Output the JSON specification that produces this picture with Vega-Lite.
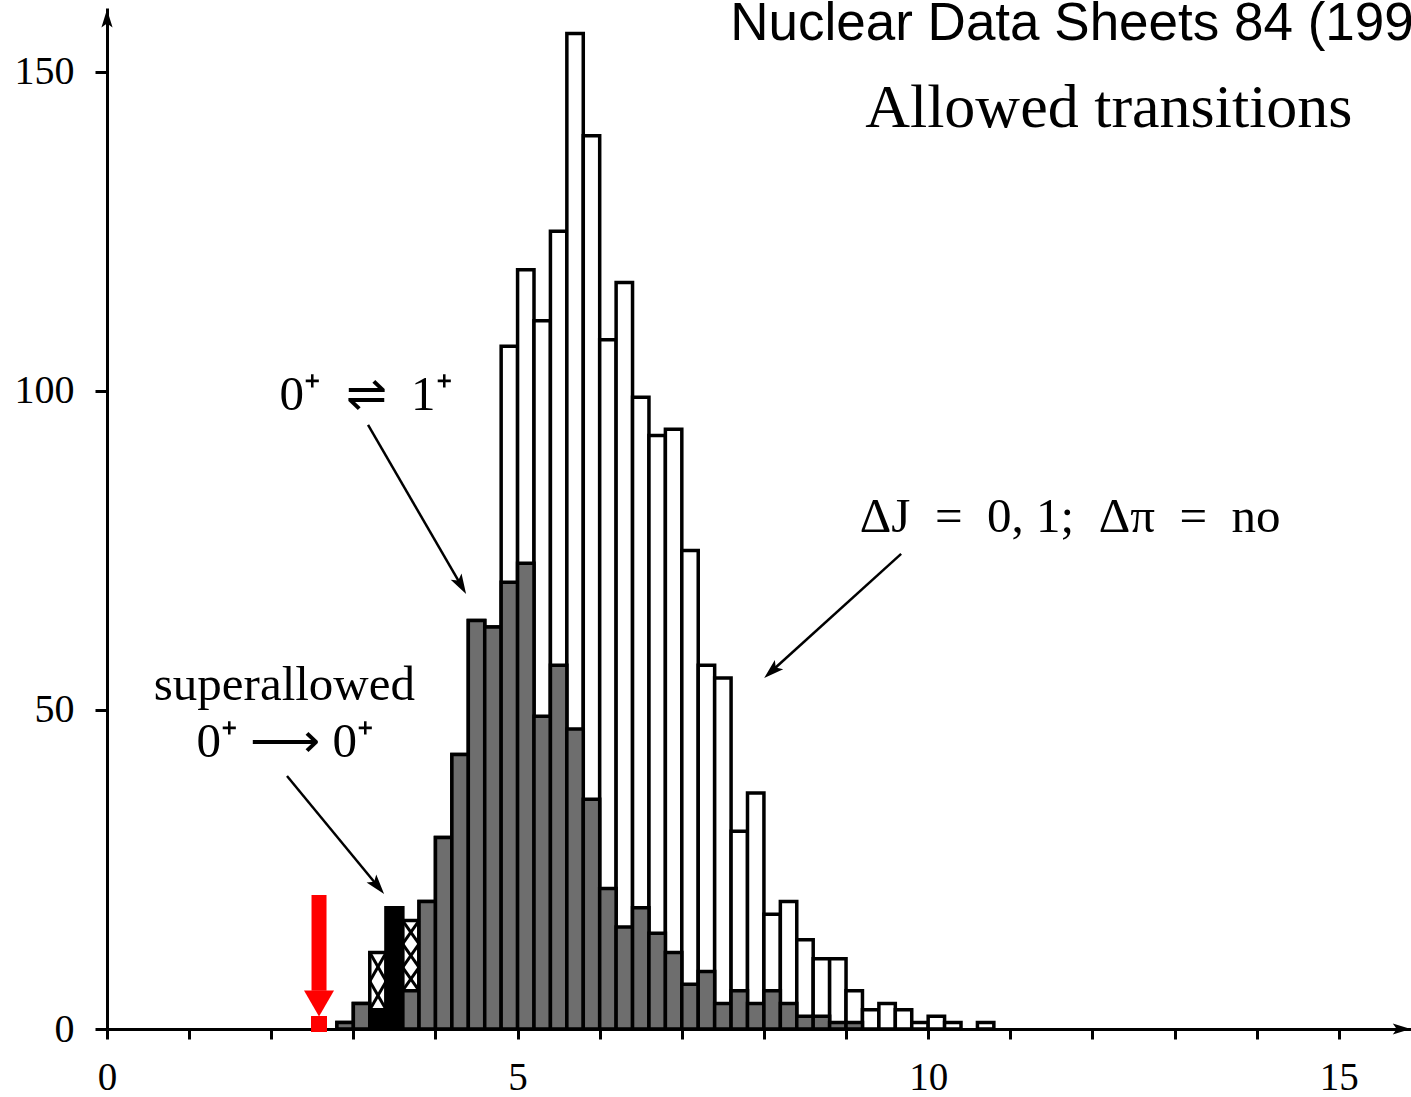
{
  "$schema": "https://vega.github.io/schema/vega-lite/v6.json",
  "width": 1304,
  "height": 1021,
  "autosize": {"type": "none"},
  "padding": {"left": 107, "top": 8, "right": 0, "bottom": 68},
  "background": "white",
  "config": {
    "view": {"stroke": null},
    "axisX": {"grid": false, "domainColor": "black", "domainWidth": 3, "tickColor": "black", "tickWidth": 3, "tickSize": 10,
              "labelFont": "Liberation Serif", "labelFontSize": 39, "labelColor": "black", "labelPadding": 19, "labelFlush": false, "labelOverlap": false},
    "axisY": {"grid": false, "domainColor": "black", "domainWidth": 3, "tickColor": "black", "tickWidth": 3, "tickSize": 12,
              "labelFont": "Liberation Serif", "labelFontSize": 40, "labelColor": "black", "labelPadding": 21, "labelOverlap": false}
  },
  "datasets": {
    "hist": [
      {"lo": 2.8, "hi": 3.0, "all": 1, "g": 1},
      {"lo": 3.0, "hi": 3.2, "all": 4, "g": 4},
      {"lo": 3.2, "hi": 3.4, "all": 12, "g": 0},
      {"lo": 3.4, "hi": 3.6, "all": 19, "g": 0},
      {"lo": 3.6, "hi": 3.8, "all": 17, "g": 6},
      {"lo": 3.8, "hi": 4.0, "all": 20, "g": 20},
      {"lo": 4.0, "hi": 4.2, "all": 30, "g": 30},
      {"lo": 4.2, "hi": 4.4, "all": 43, "g": 43},
      {"lo": 4.4, "hi": 4.6, "all": 64, "g": 64},
      {"lo": 4.6, "hi": 4.8, "all": 63, "g": 63},
      {"lo": 4.8, "hi": 5.0, "all": 107, "g": 70},
      {"lo": 5.0, "hi": 5.2, "all": 119, "g": 73},
      {"lo": 5.2, "hi": 5.4, "all": 111, "g": 49},
      {"lo": 5.4, "hi": 5.6, "all": 125, "g": 57},
      {"lo": 5.6, "hi": 5.8, "all": 156, "g": 47},
      {"lo": 5.8, "hi": 6.0, "all": 140, "g": 36},
      {"lo": 6.0, "hi": 6.2, "all": 108, "g": 22},
      {"lo": 6.2, "hi": 6.4, "all": 117, "g": 16},
      {"lo": 6.4, "hi": 6.6, "all": 99, "g": 19},
      {"lo": 6.6, "hi": 6.8, "all": 93, "g": 15},
      {"lo": 6.8, "hi": 7.0, "all": 94, "g": 12},
      {"lo": 7.0, "hi": 7.2, "all": 75, "g": 7},
      {"lo": 7.2, "hi": 7.4, "all": 57, "g": 9},
      {"lo": 7.4, "hi": 7.6, "all": 55, "g": 4},
      {"lo": 7.6, "hi": 7.8, "all": 31, "g": 6},
      {"lo": 7.8, "hi": 8.0, "all": 37, "g": 4},
      {"lo": 8.0, "hi": 8.2, "all": 18, "g": 6},
      {"lo": 8.2, "hi": 8.4, "all": 20, "g": 4},
      {"lo": 8.4, "hi": 8.6, "all": 14, "g": 2},
      {"lo": 8.6, "hi": 8.8, "all": 11, "g": 2},
      {"lo": 8.8, "hi": 9.0, "all": 11, "g": 1},
      {"lo": 9.0, "hi": 9.2, "all": 6, "g": 1},
      {"lo": 9.2, "hi": 9.4, "all": 3, "g": 0},
      {"lo": 9.4, "hi": 9.6, "all": 4, "g": 0},
      {"lo": 9.6, "hi": 9.8, "all": 3, "g": 0},
      {"lo": 9.8, "hi": 10.0, "all": 1, "g": 0},
      {"lo": 10.0, "hi": 10.2, "all": 2, "g": 0},
      {"lo": 10.2, "hi": 10.4, "all": 1, "g": 0},
      {"lo": 10.6, "hi": 10.8, "all": 1, "g": 0}
    ],
    "black": [
      {"lo": 3.2, "hi": 3.4, "n": 3},
      {"lo": 3.4, "hi": 3.6, "n": 19}
    ],
    "hatch": [
      {"lo": 3.2, "hi": 3.4, "a": 3, "b": 7.5},
      {"lo": 3.2, "hi": 3.4, "a": 7.5, "b": 12},
      {"lo": 3.6, "hi": 3.8, "a": 6, "b": 9.67},
      {"lo": 3.6, "hi": 3.8, "a": 9.67, "b": 13.33},
      {"lo": 3.6, "hi": 3.8, "a": 13.33, "b": 17}
    ],
    "arrows": [
      {"x": 3.179, "y": 94.67, "x2": 4.297, "y2": 69.87},
      {"x": 2.192, "y": 39.66, "x2": 3.278, "y2": 22.68},
      {"x": 9.671, "y": 74.45, "x2": 8.116, "y2": 56.33}
    ]
  },
  "layer": [
    {
      "data": {"name": "hist"},
      "mark": {"type": "rect", "fill": "white", "stroke": "black", "strokeWidth": 3.5},
      "encoding": {
        "x": {"field": "lo", "type": "quantitative", "title": null,
              "scale": {"domain": [0, 15.88], "nice": false, "zero": false},
              "axis": {"values": [0,1,2,3,4,5,6,7,8,9,10,11,12,13,14,15], "format": "d",
                       "labelExpr": "datum.value % 5 === 0 ? datum.label : ''", "title": null}},
        "x2": {"field": "hi"},
        "y": {"field": "all", "type": "quantitative", "title": null,
              "scale": {"domain": [0, 160], "nice": false},
              "axis": {"values": [0, 50, 100, 150], "format": "d", "title": null}},
        "y2": {"datum": 0}
      }
    },
    {
      "data": {"name": "hist"},
      "transform": [{"filter": "datum.g > 0"}],
      "mark": {"type": "rect", "fill": "#6e6e6e", "stroke": "black", "strokeWidth": 3.5},
      "encoding": {
        "x": {"field": "lo", "type": "quantitative", "title": null},
        "x2": {"field": "hi"},
        "y": {"field": "g", "type": "quantitative", "title": null},
        "y2": {"datum": 0}
      }
    },
    {
      "data": {"name": "black"},
      "mark": {"type": "rect", "fill": "black", "stroke": "black", "strokeWidth": 3.5},
      "encoding": {
        "x": {"field": "lo", "type": "quantitative", "title": null},
        "x2": {"field": "hi"},
        "y": {"field": "n", "type": "quantitative", "title": null},
        "y2": {"datum": 0}
      }
    },
    {
      "data": {"name": "hatch"},
      "mark": {"type": "rule", "color": "black", "strokeWidth": 3},
      "encoding": {
        "x": {"field": "lo", "type": "quantitative", "title": null},
        "x2": {"field": "hi"},
        "y": {"field": "a", "type": "quantitative", "title": null},
        "y2": {"field": "b"}
      }
    },
    {
      "data": {"name": "hatch"},
      "mark": {"type": "rule", "color": "black", "strokeWidth": 3},
      "encoding": {
        "x": {"field": "lo", "type": "quantitative", "title": null},
        "x2": {"field": "hi"},
        "y": {"field": "b", "type": "quantitative", "title": null},
        "y2": {"field": "a"}
      }
    },
    {
      "data": {"name": "arrows"},
      "mark": {"type": "rule", "color": "black", "strokeWidth": 2.5},
      "encoding": {
        "x": {"field": "x", "type": "quantitative", "title": null},
        "x2": {"field": "x2"},
        "y": {"field": "y", "type": "quantitative", "title": null},
        "y2": {"field": "y2"}
      }
    },
    {
      "data": {"values": [{"x": 4.297, "y": 69.87}]},
      "mark": {"type": "point", "shape": "M0,-1L0.5,0.6L0,0.25L-0.5,0.6Z", "size": 625, "filled": true, "color": "black", "opacity": 1, "angle": 150},
      "encoding": {"x": {"field": "x", "type": "quantitative", "title": null}, "y": {"field": "y", "type": "quantitative", "title": null}}
    },
    {
      "data": {"values": [{"x": 3.278, "y": 22.68}]},
      "mark": {"type": "point", "shape": "M0,-1L0.5,0.6L0,0.25L-0.5,0.6Z", "size": 625, "filled": true, "color": "black", "opacity": 1, "angle": 140.6},
      "encoding": {"x": {"field": "x", "type": "quantitative", "title": null}, "y": {"field": "y", "type": "quantitative", "title": null}}
    },
    {
      "data": {"values": [{"x": 8.116, "y": 56.33}]},
      "mark": {"type": "point", "shape": "M0,-1L0.5,0.6L0,0.25L-0.5,0.6Z", "size": 625, "filled": true, "color": "black", "opacity": 1, "angle": 227.8},
      "encoding": {"x": {"field": "x", "type": "quantitative", "title": null}, "y": {"field": "y", "type": "quantitative", "title": null}}
    },
    {
      "data": {"values": [{"x": 0, "y": 158.0}]},
      "mark": {"type": "point", "shape": "M0,-1L0.5,0.6L0,0.25L-0.5,0.6Z", "size": 500, "filled": true, "color": "black", "opacity": 1, "angle": 0},
      "encoding": {"x": {"field": "x", "type": "quantitative", "title": null}, "y": {"field": "y", "type": "quantitative", "title": null}}
    },
    {
      "data": {"values": [{"x": 15.74, "y": 0}]},
      "mark": {"type": "point", "shape": "M0,-1L0.5,0.6L0,0.25L-0.5,0.6Z", "size": 500, "filled": true, "color": "black", "opacity": 1, "angle": 90},
      "encoding": {"x": {"field": "x", "type": "quantitative", "title": null}, "y": {"field": "y", "type": "quantitative", "title": null}}
    },
    {
      "data": {"values": [
        {"x": 3.155, "y": 97.0, "t": "0⁺\u2002⇌\u20021⁺"},
        {"x": 2.16, "y": 51.6, "t": "superallowed"},
        {"x": 2.17, "y": 42.6, "t": "0⁺ ⟶ 0⁺"},
        {"x": 11.73, "y": 77.9, "t": "ΔJ\u2002=\u20020, 1;\u2002Δπ\u2002=\u2002no"}
      ]},
      "mark": {"type": "text", "font": "Liberation Serif", "fontSize": 49, "align": "center", "baseline": "alphabetic", "color": "black"},
      "encoding": {
        "x": {"field": "x", "type": "quantitative", "title": null},
        "y": {"field": "y", "type": "quantitative", "title": null},
        "text": {"field": "t"}
      }
    },
    {
      "data": {"values": [{"x": 12.2, "y": 141.4, "t": "Allowed transitions"}]},
      "mark": {"type": "text", "font": "Liberation Serif", "fontSize": 62, "align": "center", "baseline": "alphabetic", "color": "black"},
      "encoding": {
        "x": {"field": "x", "type": "quantitative", "title": null},
        "y": {"field": "y", "type": "quantitative", "title": null},
        "text": {"field": "t"}
      }
    },
    {
      "data": {"values": [{"x": 7.59, "y": 155.0, "t": "Nuclear Data Sheets 84 (199"}]},
      "mark": {"type": "text", "font": "Liberation Sans", "fontSize": 53, "align": "left", "baseline": "alphabetic", "color": "black"},
      "encoding": {
        "x": {"field": "x", "type": "quantitative", "title": null},
        "y": {"field": "y", "type": "quantitative", "title": null},
        "text": {"field": "t"}
      }
    },
    {
      "data": {"values": [{"x": 2.582, "y": 21.0, "y2": 6.0}]},
      "mark": {"type": "rule", "color": "#ff0000", "strokeWidth": 15, "strokeCap": "butt"},
      "encoding": {
        "x": {"field": "x", "type": "quantitative", "title": null},
        "y": {"field": "y", "type": "quantitative", "title": null},
        "y2": {"field": "y2"}
      }
    },
    {
      "data": {"values": [{"x": 2.582, "y": 4.0}]},
      "mark": {"type": "point", "shape": "triangle-down", "size": 900, "filled": true, "color": "#ff0000", "opacity": 1},
      "encoding": {"x": {"field": "x", "type": "quantitative", "title": null}, "y": {"field": "y", "type": "quantitative", "title": null}}
    },
    {
      "data": {"values": [{"x": 2.582, "y": 0.78}]},
      "mark": {"type": "point", "shape": "square", "size": 256, "filled": true, "color": "#ff0000", "opacity": 1},
      "encoding": {"x": {"field": "x", "type": "quantitative", "title": null}, "y": {"field": "y", "type": "quantitative", "title": null}}
    }
  ]
}
